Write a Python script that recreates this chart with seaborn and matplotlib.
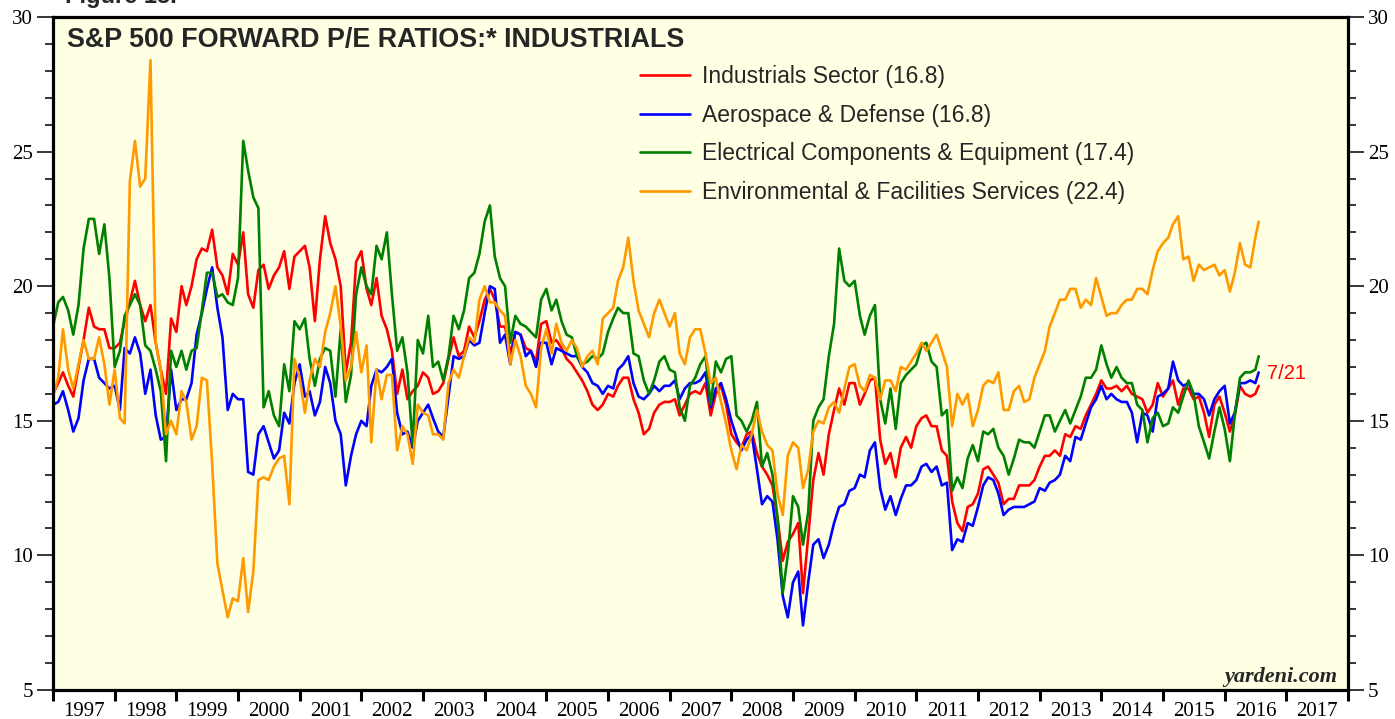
import numpy as np
import pandas as pd
import matplotlib
matplotlib.use("Agg")
import matplotlib.pyplot as plt
import seaborn as sns
from matplotlib.ticker import MultipleLocator, FixedLocator, NullFormatter, FixedFormatter

# ---------------- data (monthly, Jan 1997 .. Jul 2016, plus 7/21/2016) ----------------
series_names = ["Industrials Sector (16.8)", "Aerospace & Defense (16.8)",
                "Electrical Components & Equipment (17.4)",
                "Environmental & Facilities Services (22.4)"]
series_colors = ["#FF0000", "#0000FF", "#008000", "#FF9900"]

industrials = [
    16.0, 16.4, 16.8, 16.3, 15.9, 17.0, 18.0, 19.2, 18.5, 18.4, 18.4, 17.7,   # 1997
    17.7, 17.9, 18.7, 19.4, 20.2, 19.3, 18.7, 19.3, 17.9, 16.9, 16.0, 18.8,   # 1998
    18.3, 20.0, 19.3, 20.0, 21.0, 21.4, 21.3, 22.1, 20.7, 20.4, 19.7, 21.2,   # 1999
    20.8, 22.0, 19.7, 19.2, 20.6, 20.8, 19.9, 20.4, 20.7, 21.3, 19.9, 21.1,   # 2000
    21.3, 21.5, 20.7, 18.7, 21.0, 22.6, 21.6, 21.0, 20.0, 16.8, 17.9, 20.9,   # 2001
    21.3, 19.9, 19.3, 20.3, 18.9, 18.4, 17.6, 16.0, 16.9, 15.8, 16.1, 16.3,   # 2002
    16.8, 16.6, 16.0, 16.1, 16.4, 17.3, 18.1, 17.4, 17.6, 18.5, 18.1, 18.7,   # 2003
    19.5, 19.9, 19.5, 18.5, 18.5, 17.5, 18.3, 18.2, 17.7, 17.6, 17.2, 18.6,   # 2004
    18.7, 17.9, 18.0, 17.7, 17.3, 17.1, 16.8, 16.5, 16.1, 15.6, 15.4, 15.6,   # 2005
    16.0, 15.9, 16.3, 16.6, 16.6, 15.8, 15.3, 14.5, 14.7, 15.3, 15.6, 15.7,   # 2006
    15.7, 15.8, 15.2, 15.6, 16.0, 16.1, 16.0, 16.4, 15.2, 16.0, 16.3, 15.6,   # 2007
    14.5, 14.2, 14.0, 14.5, 14.6, 13.8, 13.3, 13.0, 12.6, 11.4, 9.8, 10.5,    # 2008
    10.8, 11.2, 8.6, 10.7, 12.8, 13.8, 13.0, 14.5, 15.4, 16.2, 15.6, 16.4,    # 2009
    16.4, 15.6, 16.0, 16.5, 16.6, 14.3, 13.4, 13.8, 12.9, 14.0, 14.4, 14.0,   # 2010
    14.8, 15.1, 15.2, 14.8, 14.8, 13.9, 13.7, 12.0, 11.2, 10.9, 11.8, 11.9,   # 2011
    12.3, 13.2, 13.3, 13.0, 12.7, 11.9, 12.1, 12.1, 12.6, 12.6, 12.6, 12.8,   # 2012
    13.3, 13.7, 13.7, 13.9, 13.7, 14.5, 14.4, 14.8, 14.7, 15.2, 15.6, 16.0,   # 2013
    16.5, 16.2, 16.2, 16.3, 16.1, 16.3, 16.0, 15.9, 15.8, 15.3, 15.6, 16.4,   # 2014
    15.9, 16.2, 16.5, 15.6, 16.2, 16.2, 15.8, 15.9, 15.3, 14.4, 15.6, 15.9,   # 2015
    15.3, 14.6, 15.2, 16.3, 16.0, 15.9, 16.0, 16.3,                          # 2016
]

aerospace = [
    15.6, 15.7, 16.1, 15.4, 14.6, 15.1, 16.5, 17.3, 17.3, 16.6, 16.4, 16.2,   # 1997
    16.3, 15.4, 17.7, 17.5, 18.1, 17.5, 16.0, 16.9, 15.2, 14.3, 14.4, 16.9,   # 1998
    15.4, 15.8, 15.8, 16.4, 18.2, 19.0, 19.9, 20.7, 19.2, 18.1, 15.4, 16.0,   # 1999
    15.8, 15.8, 13.1, 13.0, 14.5, 14.8, 14.2, 13.6, 13.9, 15.3, 14.9, 16.4,   # 2000
    17.1, 15.9, 16.1, 15.2, 15.7, 17.0, 16.4, 15.0, 14.5, 12.6, 13.7, 14.5,   # 2001
    15.0, 14.8, 16.3, 16.9, 16.8, 17.0, 17.3, 15.3, 14.5, 14.6, 14.0, 15.0,   # 2002
    15.3, 15.6, 15.1, 14.6, 14.4, 15.9, 17.4, 17.3, 17.4, 18.0, 17.8, 17.9,   # 2003
    19.0, 20.0, 19.9, 17.9, 18.2, 17.1, 18.3, 18.2, 17.4, 17.6, 17.0, 17.9,   # 2004
    17.9, 17.1, 17.7, 17.6, 17.5, 17.4, 17.4, 17.0, 16.8, 16.4, 16.3, 16.0,   # 2005
    16.3, 16.2, 16.9, 17.1, 17.4, 16.4, 15.9, 15.8, 16.0, 16.3, 16.1, 16.3,   # 2006
    16.3, 16.5, 15.8, 16.2, 16.4, 16.4, 16.5, 16.8, 15.5, 16.2, 16.4, 15.8,   # 2007
    15.0, 14.4, 13.9, 14.3, 14.5, 13.2, 11.9, 12.2, 12.0, 10.6, 8.5, 7.7,     # 2008
    9.0, 9.4, 7.4, 9.0, 10.4, 10.6, 9.9, 10.4, 11.2, 11.8, 11.9, 12.4,        # 2009
    12.5, 13.0, 12.9, 13.9, 14.2, 12.5, 11.7, 12.2, 11.5, 12.1, 12.6, 12.6,   # 2010
    12.8, 13.3, 13.4, 13.1, 13.3, 12.6, 12.7, 10.2, 10.6, 10.5, 11.2, 11.1,   # 2011
    11.8, 12.6, 12.9, 12.8, 12.3, 11.5, 11.7, 11.8, 11.8, 11.8, 11.9, 12.0,   # 2012
    12.5, 12.4, 12.7, 12.8, 13.0, 13.7, 13.5, 14.4, 14.3, 14.9, 15.5, 15.8,   # 2013
    16.3, 15.8, 16.0, 15.8, 15.7, 15.7, 15.3, 14.2, 15.3, 15.2, 14.6, 15.9,   # 2014
    16.0, 16.2, 17.2, 16.5, 16.3, 16.4, 16.0, 16.0, 15.8, 15.2, 15.8, 16.1,   # 2015
    16.3, 14.9, 15.3, 16.4, 16.4, 16.5, 16.4, 16.8,                          # 2016
]

electrical = [
    18.5, 19.4, 19.6, 19.1, 18.2, 19.3, 21.4, 22.5, 22.5, 21.2, 22.3, 20.3,   # 1997
    17.0, 17.6, 18.9, 19.3, 19.7, 19.3, 17.8, 17.6, 16.9, 16.1, 13.5, 17.6,   # 1998
    17.0, 17.6, 16.9, 17.6, 17.7, 19.1, 20.5, 20.5, 19.6, 19.7, 19.4, 19.3,   # 1999
    20.3, 25.4, 24.3, 23.3, 22.9, 15.5, 16.1, 15.2, 14.8, 17.1, 16.1, 18.7,   # 2000
    18.4, 18.8, 17.3, 16.3, 17.3, 17.7, 17.6, 15.9, 18.4, 15.7, 16.7, 19.7,   # 2001
    20.7, 20.0, 19.7, 21.5, 21.0, 22.0, 19.7, 17.6, 18.1, 16.8, 14.1, 18.0,   # 2002
    17.5, 18.9, 17.0, 17.2, 16.5, 17.4, 18.9, 18.4, 19.1, 20.3, 20.5, 21.2,   # 2003
    22.4, 23.0, 21.1, 20.3, 20.0, 17.9, 18.9, 18.6, 18.5, 18.3, 18.1, 19.5,   # 2004
    19.9, 19.1, 19.5, 18.7, 18.2, 18.1, 17.4, 17.1, 17.2, 17.4, 17.3, 17.5,   # 2005
    18.3, 18.8, 19.2, 19.0, 19.0, 17.5, 17.4, 16.5, 16.0, 16.5, 17.2, 17.4,   # 2006
    16.9, 16.8, 15.5, 15.0, 16.3, 16.6, 17.1, 17.4, 15.6, 17.2, 16.8, 17.3,   # 2007
    17.4, 15.2, 15.0, 14.6, 15.0, 15.7, 13.3, 13.8, 13.0, 11.4, 8.6, 10.0,    # 2008
    12.2, 11.8, 10.4, 11.6, 15.0, 15.5, 15.8, 17.4, 18.6, 21.4, 20.2, 20.0,   # 2009
    20.2, 18.9, 18.2, 18.9, 19.3, 15.8, 14.9, 16.2, 14.7, 16.4, 16.7, 16.9,   # 2010
    17.1, 17.8, 17.9, 17.2, 17.0, 15.2, 15.4, 12.4, 12.9, 12.5, 13.6, 14.1,   # 2011
    13.5, 14.6, 14.5, 14.7, 14.0, 13.7, 13.0, 13.6, 14.3, 14.2, 14.2, 14.0,   # 2012
    14.6, 15.2, 15.2, 14.6, 15.0, 15.4, 14.9, 15.4, 15.9, 16.6, 16.6, 16.9,   # 2013
    17.8, 17.1, 16.6, 17.0, 16.6, 16.4, 16.4, 15.6, 15.4, 14.2, 15.1, 15.3,   # 2014
    14.8, 14.9, 15.5, 15.3, 15.9, 16.5, 16.0, 14.8, 14.2, 13.6, 14.6, 15.5,   # 2015
    14.7, 13.5, 15.2, 16.6, 16.8, 16.8, 16.9, 17.4,                          # 2016
]

environmental = [
    15.9, 16.6, 18.4, 16.9, 16.2, 17.1, 18.0, 17.3, 17.3, 18.1, 17.1, 15.6,   # 1997
    16.9, 15.1, 14.9, 23.9, 25.4, 23.7, 24.0, 28.4, 17.9, 16.9, 14.5, 15.0,   # 1998
    14.5, 16.1, 15.7, 14.3, 14.8, 16.6, 16.5, 13.4, 9.7, 8.7, 7.7, 8.4,       # 1999
    8.3, 9.9, 7.9, 9.4, 12.8, 12.9, 12.8, 13.3, 13.6, 13.7, 11.9, 17.3,       # 2000
    16.6, 15.3, 16.5, 17.3, 17.0, 18.3, 19.0, 20.0, 18.5, 16.5, 17.0, 18.3,   # 2001
    16.8, 17.8, 14.2, 16.9, 15.8, 16.7, 16.7, 13.9, 14.8, 14.5, 13.4, 15.6,   # 2002
    15.3, 15.2, 14.5, 14.5, 14.3, 16.4, 16.9, 16.6, 17.4, 18.1, 17.9, 19.5,   # 2003
    20.0, 19.4, 19.4, 19.1, 18.9, 17.1, 18.0, 17.4, 16.3, 16.0, 15.5, 17.7,   # 2004
    18.4, 17.5, 18.6, 17.9, 17.6, 18.0, 17.7, 17.0, 17.4, 17.6, 17.1, 18.8,   # 2005
    19.0, 19.2, 20.2, 20.7, 21.8, 20.2, 19.1, 18.6, 18.1, 19.0, 19.5, 19.0,   # 2006
    18.5, 19.0, 17.5, 17.1, 18.1, 18.4, 18.4, 17.5, 16.4, 16.6, 15.7, 14.9,   # 2007
    13.9, 13.2, 14.1, 13.9, 14.5, 15.4, 14.6, 14.1, 13.9, 12.3, 11.5, 13.7,   # 2008
    14.2, 14.0, 12.5, 13.2, 14.6, 15.0, 14.9, 15.5, 15.7, 15.3, 16.2, 17.0,   # 2009
    17.1, 16.3, 16.1, 16.7, 16.6, 15.8, 16.5, 16.5, 16.1, 17.0, 16.9, 17.2,   # 2010
    17.5, 17.9, 17.6, 17.9, 18.2, 17.6, 17.0, 14.8, 16.0, 15.6, 16.0, 14.8,   # 2011
    15.4, 16.3, 16.5, 16.4, 16.8, 15.4, 15.4, 16.1, 16.3, 15.7, 15.8, 16.6,   # 2012
    17.1, 17.6, 18.5, 19.0, 19.5, 19.5, 19.9, 19.9, 19.2, 19.5, 19.3, 20.3,   # 2013
    19.6, 18.9, 19.0, 19.0, 19.3, 19.5, 19.5, 19.9, 19.9, 19.7, 20.6, 21.3,   # 2014
    21.6, 21.8, 22.3, 22.6, 21.0, 21.1, 20.2, 20.8, 20.6, 20.7, 20.8, 20.4,   # 2015
    20.6, 19.8, 20.5, 21.6, 20.8, 20.7, 21.8, 22.4,                          # 2016
]

year_labels = [str(y) for y in range(1997, 2018)]
y_ticks = [5, 10, 15, 20, 25, 30]

# ---------------- dates ----------------
dates = pd.date_range("1997-01-01", "2016-07-01", freq="MS").append(pd.DatetimeIndex(["2016-07-21"]))
dec_year = dates.year + (dates.dayofyear - 1) / np.where(dates.is_leap_year, 366.0, 365.0)

frames = []
for name, vals in zip(series_names, [industrials, aerospace, electrical, environmental]):
    frames.append(pd.DataFrame({"t": dec_year, "pe": vals, "series": name}))
df = pd.concat(frames, ignore_index=True)

# ---------------- figure ----------------
sns.set_style("ticks")
plt.rcParams["font.family"] = ["Liberation Sans", "DejaVu Sans"]

W, H = 1395, 719
fig = plt.figure(figsize=(W / 100, H / 100), dpi=100)
ax = fig.add_axes([53 / W, 29 / H, 1295 / W, 673 / H])
ax.set_facecolor("#FFFFE3")

sns.lineplot(data=df, x="t", y="pe", hue="series", hue_order=series_names,
             palette=dict(zip(series_names, series_colors)), linewidth=1.9,
             estimator=None, sort=False, legend=False, ax=ax)

ax.set_xlim(1997, 2018)
ax.set_ylim(5, 30)
ax.set_xlabel("")
ax.set_ylabel("")

for sp in ax.spines.values():
    sp.set_visible(True)
    sp.set_linewidth(2.3)
    sp.set_color("black")

serif = "Liberation Serif"
# y axis: both sides
ax.yaxis.set_major_locator(FixedLocator(y_ticks))
ax.yaxis.set_minor_locator(MultipleLocator(1))
ax.tick_params(axis="y", which="both", left=True, right=True, labelleft=True,
               labelright=True, direction="out", colors="black")
ax.tick_params(axis="y", which="major", length=11.5, width=1.1, pad=3, labelsize=15)
ax.tick_params(axis="y", which="minor", length=5.5, width=1.1)
for lab in ax.get_yticklabels():
    lab.set_fontfamily(serif)

# x axis: year boundary ticks, labels centered in between
ax.xaxis.set_major_locator(FixedLocator(list(range(1997, 2019))))
ax.xaxis.set_major_formatter(NullFormatter())
ax.xaxis.set_minor_locator(FixedLocator([y + 0.5 for y in range(1997, 2018)]))
ax.xaxis.set_minor_formatter(FixedFormatter(year_labels))
ax.tick_params(axis="x", which="major", direction="out", length=8, width=2.2,
               bottom=True, top=False, colors="black")
ax.tick_params(axis="x", which="minor", length=0, pad=9, labelsize=15, colors="black")
for lab in ax.get_xticklabels(minor=True):
    lab.set_fontfamily(serif)

# title and texts
ax.text((67 - 53) / 1295, (690 - 46.5) / 673, "S&P 500 FORWARD P/E RATIOS:* INDUSTRIALS",
        transform=ax.transAxes, fontsize=19.4, fontweight="bold", ha="left", va="baseline")
fig.text(65 / W, 1 - 3 / H, "Figure 15.", fontsize=17, fontweight="bold",
         ha="left", va="baseline")
ax.text(0.9915, (690 - 682) / 673, "yardeni.com", transform=ax.transAxes,
        fontsize=16, fontweight="bold", fontstyle="italic", fontfamily=serif,
        ha="right", va="baseline")
ax.text(dec_year[-1] + 0.14, 16.75, "7/21", color="#FF0000", fontsize=14.5,
        ha="left", va="center")

# legend
handles = ax.get_lines()[:4]
leg = ax.legend(handles, series_names, loc="upper left",
                bbox_to_anchor=((640 - 53) / 1295, (690 - 65) / 673),
                frameon=False, fontsize=16.5, handlelength=2.18, handletextpad=0.52,
                labelspacing=0.68, borderpad=0, borderaxespad=0)

fig.savefig("out.png", dpi=100)
